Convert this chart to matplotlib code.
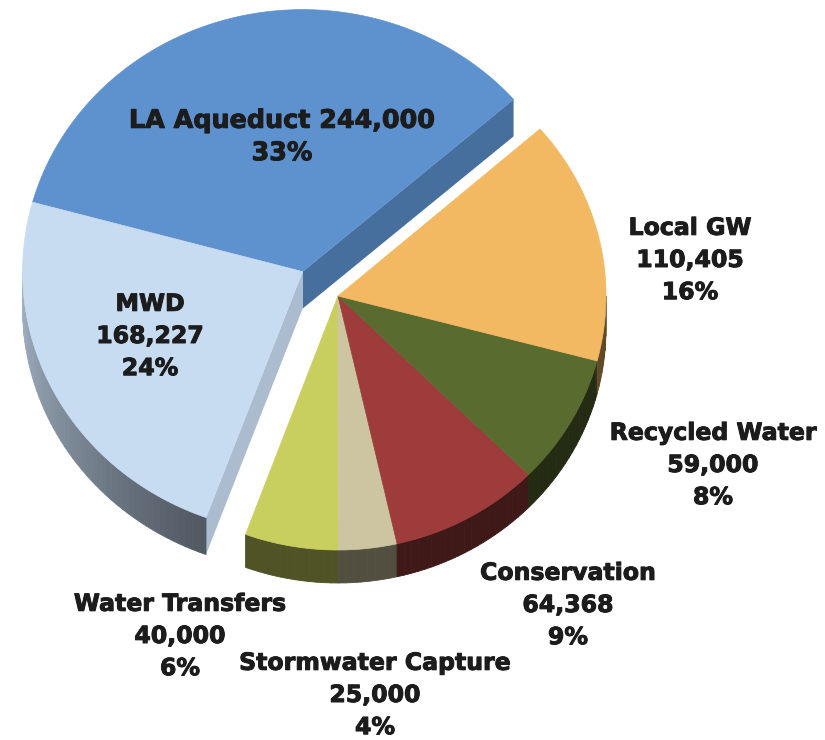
import numpy as np
import matplotlib
matplotlib.use("Agg")
import matplotlib.pyplot as plt
import matplotlib.patheffects as pe
from matplotlib.patches import Polygon
from matplotlib.colors import to_rgb

# data (acre-feet), listed counter-clockwise starting at the upper edge of Local GW
names = ["LA Aqueduct", "MWD", "Water Transfers", "Stormwater Capture",
         "Conservation", "Recycled Water", "Local GW"]
values = [244000, 168227, 40000, 25000, 64368, 59000, 110405]
pct_labels = ["33%", "24%", "6%", "4%", "9%", "8%", "16%"]
top_colors = ["#5E92CF", "#C7DBF1", "#C9CF5F", "#CDC5A1", "#9E3C3C", "#5A6B2F", "#F3B862"]
exploded = [True, True, False, False, False, False, False]

START = 41.1  # degrees, where the first slice begins

# label layout (pixel coords, y down)
label_pos = [(282, 137), (150, 336), (180, 636), (375, 695),
             (568, 605), (713, 465), (690, 260)]
label_size = [18.3, 17.0, 17.0, 17.0, 17.0, 17.0, 17.0]

fig = plt.figure(figsize=(8.25, 7.4), dpi=100)
ax = fig.add_axes([0, 0, 1, 1])
ax.set_xlim(0, 825)
ax.set_ylim(740, 0)
ax.axis("off")

# geometry
main_c = np.array([338.0, 296.0])
main_r = (268.0, 254.0)
main_depth = 33.0
exp_dist = 43.0
exp_r = (280.0, 262.0)
exp_depth = 37.0

fracs = np.array(values) / np.sum(values)
edges = START + np.concatenate([[0], np.cumsum(fracs) * 360])

grp = [i for i, e in enumerate(exploded) if e]
grp_mid = np.deg2rad((edges[grp[0]] + edges[grp[-1] + 1]) / 2)
exp_c = main_c + exp_dist * np.array([np.cos(grp_mid), -np.sin(grp_mid)])


def pt(c, r, th):
    t = np.deg2rad(th)
    return np.array([c[0] + r[0] * np.cos(t), c[1] - r[1] * np.sin(t)])


def shade(col, f):
    return tuple(np.clip(np.array(to_rgb(col)) * f, 0, 1))


def side_factor(th):
    th = th % 360
    return 0.40 + 0.43 * np.clip((250 - th) / 70, 0, 1)


tops, sides, cuts = [], [], []
for i in range(len(values)):
    a0, a1 = edges[i], edges[i + 1]
    if exploded[i]:
        c, r, d = exp_c, exp_r, exp_depth
    else:
        c, r, d = main_c, main_r, main_depth
    col = top_colors[i]

    th = np.linspace(a0, a1, 200)
    arc = np.array([pt(c, r, t) for t in th])
    tops.append(Polygon(np.vstack([c, arc]), closed=True, facecolor=col,
                        edgecolor=col, lw=0.5, zorder=3))

    # outer wall, only the front half (180..360 deg) is seen
    lo, hi = a0 % 360, a0 % 360 + (a1 - a0)
    for base in (0, 360):
        s0, s1 = max(lo, 180 + base), min(hi, 360 + base)
        if s1 <= s0:
            continue
        n = max(2, int((s1 - s0) / 1.5))
        ts = np.linspace(s0, s1, n + 1)
        for k in range(n):
            p0, p1 = pt(c, r, ts[k]), pt(c, r, ts[k + 1])
            q = np.array([p0, p1, p1 + [0, d], p0 + [0, d]])
            sc = shade(col, side_factor((ts[k] + ts[k + 1]) / 2))
            sides.append(Polygon(q, closed=True, facecolor=sc, edgecolor=sc,
                                 lw=0.6, zorder=2))

    # cut faces of the pulled-out group
    if exploded[i]:
        if i == grp[0]:
            e = pt(c, r, a0)
            cuts.append(Polygon([c, e, e + [0, d], c + [0, d]], closed=True,
                                facecolor=shade(col, 0.76), edgecolor="none", zorder=1))
        if i == grp[-1]:
            e = pt(c, r, a1)
            cuts.append(Polygon([c, e, e + [0, d], c + [0, d]], closed=True,
                                facecolor=shade(col, 0.86), edgecolor="none", zorder=1))

for p in cuts + sides + tops:
    ax.add_patch(p)

# heavier lettering, like the original bold face
heavy = [pe.withStroke(linewidth=0.7, foreground="#1c1c1c")]
for i in range(len(values)):
    if i == 0:
        txt = f"{names[i]} {values[i]:,}\n{pct_labels[i]}"
        ls = 1.44
    else:
        txt = f"{names[i]}\n{values[i]:,}\n{pct_labels[i]}"
        ls = 1.43
    ax.text(label_pos[i][0], label_pos[i][1], txt, ha="center", va="center",
            multialignment="center", fontsize=label_size[i], fontweight="bold",
            color="#1c1c1c", linespacing=ls, zorder=5, family="DejaVu Sans",
            path_effects=heavy)

fig.savefig("out.png", dpi=100)
